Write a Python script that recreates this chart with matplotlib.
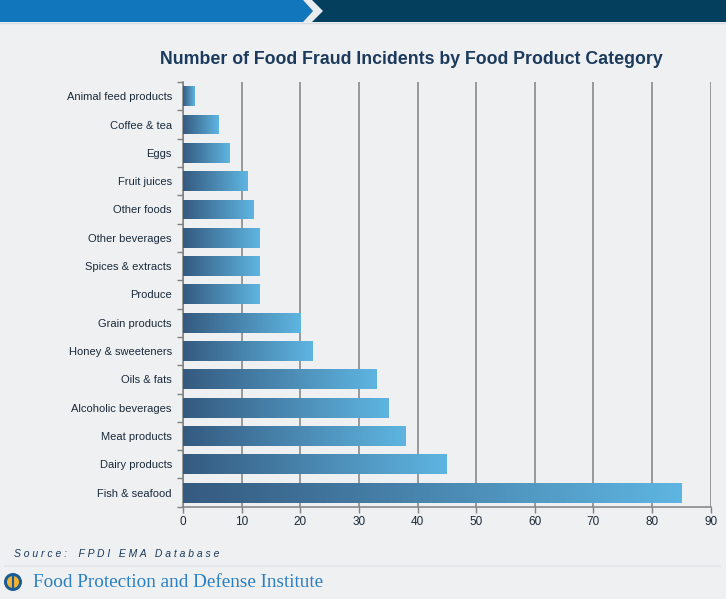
import numpy as np
import matplotlib
matplotlib.use("Agg")
import matplotlib.pyplot as plt
from matplotlib.colors import LinearSegmentedColormap
from matplotlib.patches import Polygon, Rectangle, Circle

categories = ["Animal feed products", "Coffee & tea", "Eggs", "Fruit juices",
              "Other foods", "Other beverages", "Spices & extracts", "Produce",
              "Grain products", "Honey & sweeteners", "Oils & fats",
              "Alcoholic beverages", "Meat products", "Dairy products",
              "Fish & seafood"]
incidents = [2, 6, 8, 11, 12, 13, 13, 13, 20, 22, 33, 35, 38, 45, 85]
x_ticks = list(range(0, 100, 10))

bg = "#eff0f2"
plt.rcParams["font.family"] = ["Liberation Sans", "DejaVu Sans"]

fig = plt.figure(figsize=(7.26, 5.99), dpi=100, facecolor=bg)

# header band and footer decorations, in pixel coordinates
hdr = fig.add_axes([0, 0, 1, 1], zorder=-1)
hdr.set_xlim(0, 726)
hdr.set_ylim(599, 0)
hdr.axis("off")
hdr.add_patch(Rectangle((0, 0), 726, 22, color="#053f5e", lw=0))
hdr.add_patch(Polygon([(0, 0), (303, 0), (313, 11), (303, 22), (0, 22)],
                      color="#1176bb", lw=0))
hdr.add_patch(Polygon([(303, 0), (312, 0), (323, 11), (312, 22), (303, 22),
                       (313, 11)], color="#e8ecf0", lw=0))
hdr.plot([0, 726], [22.5, 22.5], color="#d8dce2", lw=1)
hdr.plot([5, 720], [566, 566], color="#e4e6ea", lw=1.5)
hdr.add_patch(Circle((13, 582), 9, color="#1a5c93", lw=0))
hdr.add_patch(Circle((13, 582), 6, color="#f2b233", lw=0))
hdr.plot([13, 13], [576, 588], color="#1a5c93", lw=1.5)

ax = fig.add_axes([0.252, 0.154, 0.727, 0.709])
ax.set_facecolor(bg)

y = np.arange(len(categories))
bars = ax.barh(y, incidents, height=0.7, color="none", zorder=3)
cmap = LinearSegmentedColormap.from_list("bar", ["#355a80", "#5eb5e1"])
grad = np.linspace(0, 1, 256).reshape(1, -1)
for b in bars:
    x0, y0, w, h = b.get_x(), b.get_y(), b.get_width(), b.get_height()
    im = ax.imshow(grad, cmap=cmap, aspect="auto", extent=(x0, x0 + w, y0, y0 + h),
                   zorder=3, interpolation="bilinear")
    im.set_clip_path(b)

ax.set_xlim(0, 90)
ax.set_ylim(len(categories) - 0.5, -0.5)
ax.set_xticks(x_ticks)
ax.set_xticklabels([str(t) for t in x_ticks], fontsize=8.5, color="#1b2a3a")
ax.set_yticks(y)
ax.set_yticklabels(categories, fontsize=8, color="#1b2a3a")
ax.set_yticks(np.arange(-0.5, len(categories), 1), minor=True)
ax.tick_params(axis="y", which="major", length=0, pad=8)
ax.tick_params(axis="y", which="minor", length=4, color="#808080", width=1)
ax.tick_params(axis="x", length=4, color="#808080", width=1, pad=3)
ax.grid(axis="x", color="#808080", lw=1.1, zorder=0)
ax.spines["top"].set_visible(False)
ax.spines["right"].set_visible(False)
for s in ["left", "bottom"]:
    ax.spines[s].set_color("#808080")
    ax.spines[s].set_linewidth(1.1)

fig.text(0.566, 0.901, "Number of Food Fraud Incidents by Food Product Category",
         ha="center", va="center", fontsize=12.8, fontweight="bold", color="#1b3a5c")
fig.text(0.019, 0.075, "S o u r c e :    F P D I   E M A   D a t a b a s e",
         ha="left", va="center", fontsize=7.5, style="italic", color="#1b3a5c")
fig.text(0.045, 0.027, "Food Protection and Defense Institute",
         ha="left", va="center", fontsize=13.8, family=["Liberation Serif", "DejaVu Serif"],
         color="#2a7fc0")

fig.savefig("out.png", dpi=100, facecolor=bg)
